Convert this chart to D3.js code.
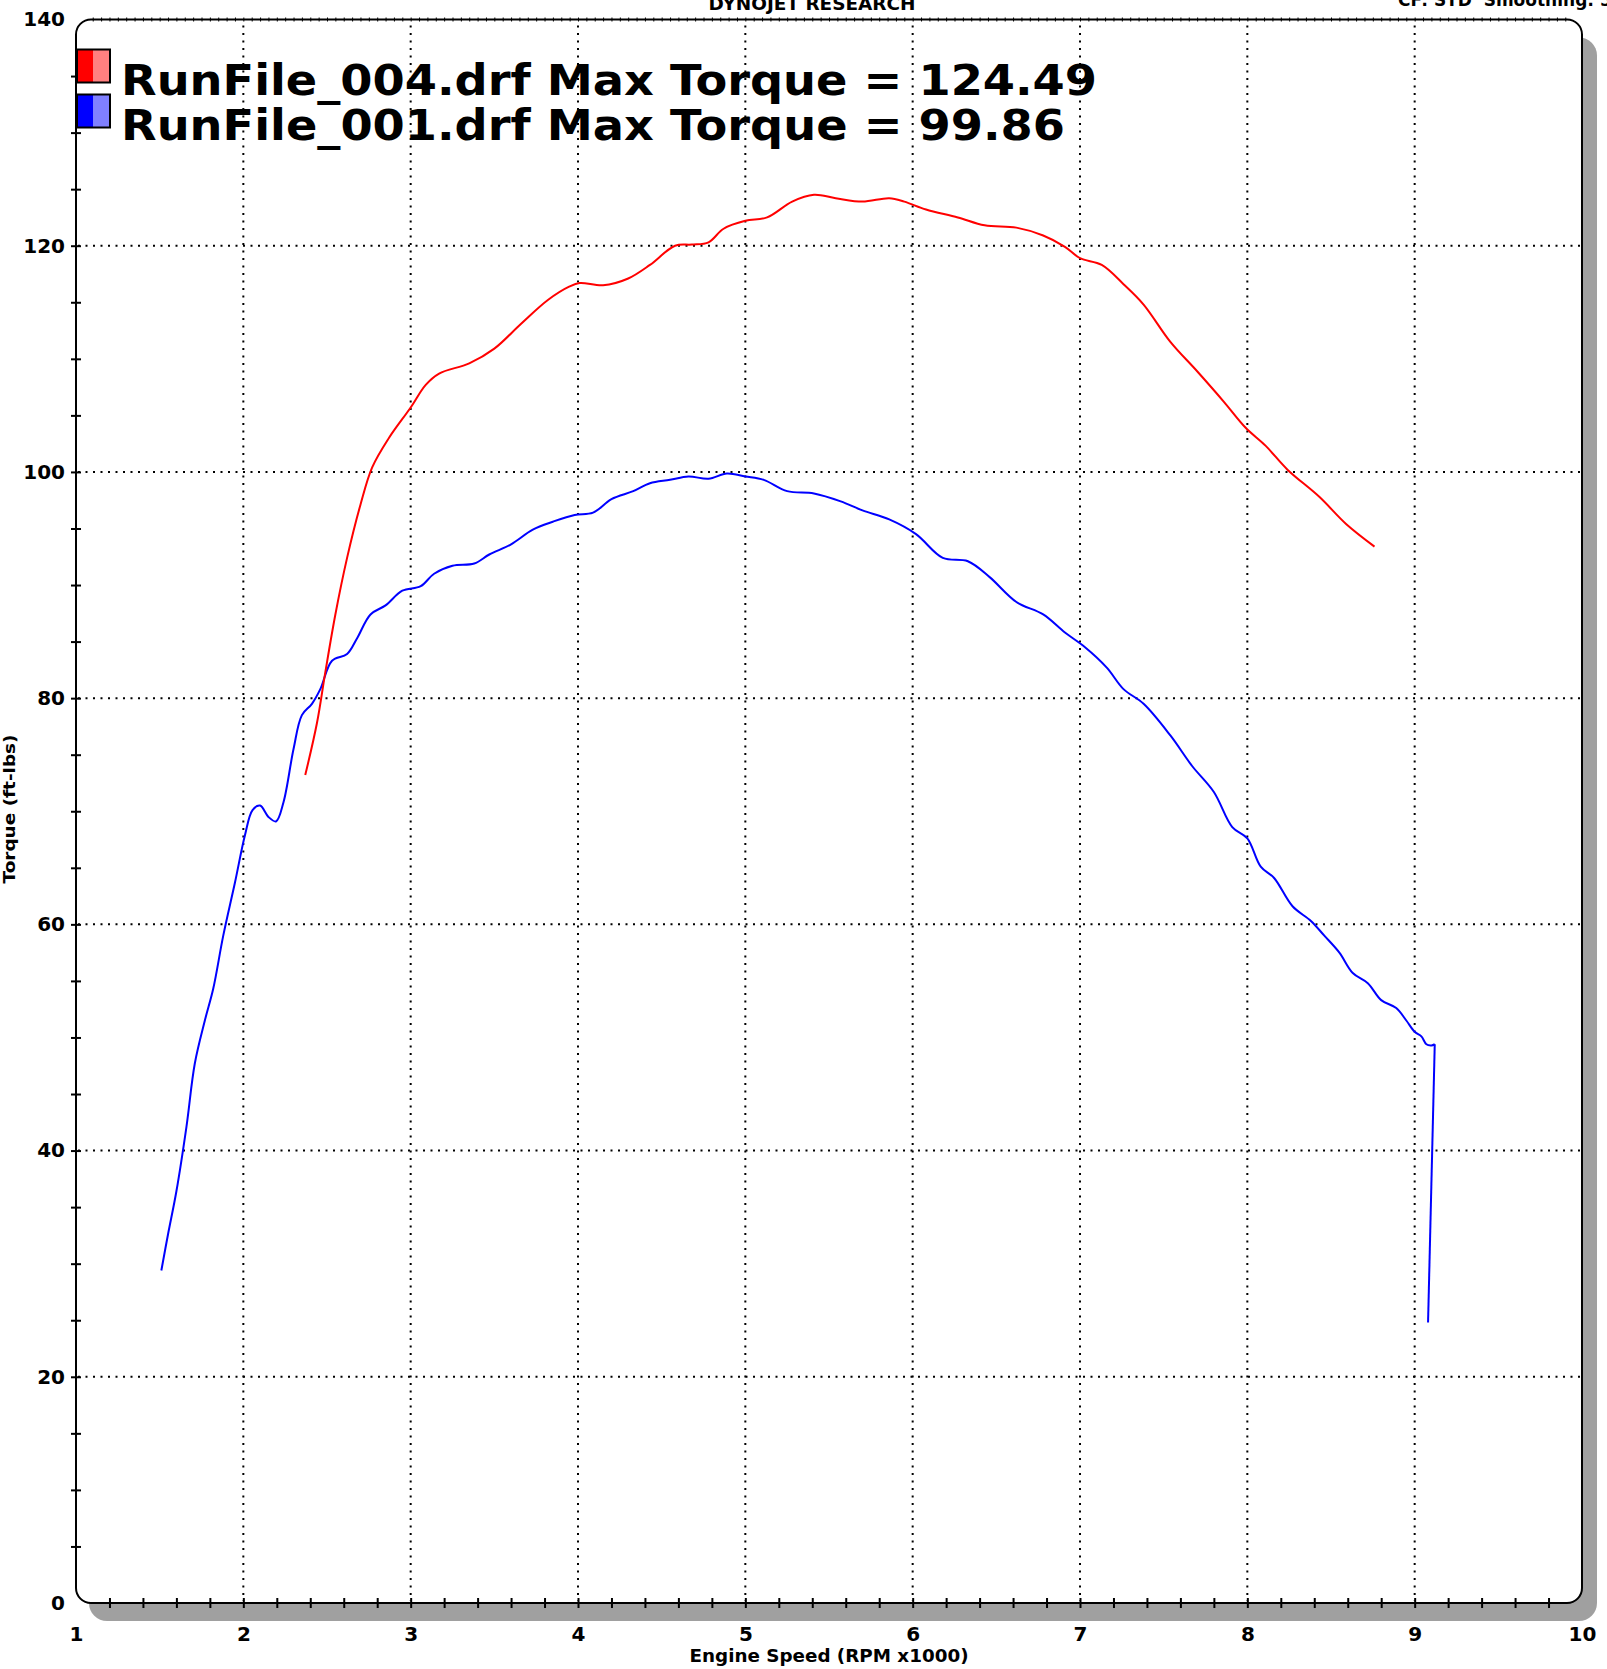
<!DOCTYPE html>
<html>
<head>
<meta charset="utf-8">
<script src="https://cdn.jsdelivr.net/npm/d3@7"></script>
<style>
  body { margin: 0; background: #fff; }
  svg { display: block; font-family: "DejaVu Sans", Verdana, sans-serif; font-weight: bold; }
</style>
</head>
<body>
<div id="chart"></div>
<script>
// run 004 (red) : engine speed (RPM x1000) / torque (ft-lbs)
var run004Rpm = [2.37,2.44,2.49,2.55,2.62,2.70,2.77,2.87,3.00,3.09,3.17,3.35,3.50,3.66,3.82,3.95,4.01,4.15,4.30,4.43,4.58,4.68,4.78,4.87,5.00,5.13,5.28,5.41,5.54,5.70,5.86,5.95,6.08,6.27,6.43,6.62,6.78,6.91,7.00,7.13,7.26,7.38,7.54,7.70,7.86,7.99,8.11,8.24,8.43,8.59,8.76];
var run004Tq  = [73.2,77.8,82.3,87.4,92.4,97.1,100.4,103.0,105.7,107.7,108.7,109.6,110.9,113.1,115.2,116.4,116.7,116.5,117.1,118.3,120.0,120.1,120.3,121.5,122.2,122.5,123.9,124.5,124.2,123.9,124.2,123.9,123.2,122.5,121.8,121.6,120.9,119.9,118.9,118.3,116.6,114.8,111.5,108.9,106.2,103.9,102.3,100.2,97.8,95.4,93.4];

// run 001 (blue)
var run001Rpm = [1.51,1.55,1.60,1.66,1.71,1.77,1.82,1.88,1.95,2.01,2.055,2.10,2.15,2.195,2.24,2.30,2.35,2.41,2.46,2.53,2.62,2.68,2.76,2.85,2.95,3.06,3.14,3.25,3.38,3.47,3.60,3.73,3.85,3.98,4.09,4.20,4.33,4.43,4.55,4.66,4.78,4.89,5.00,5.11,5.25,5.41,5.57,5.70,5.86,6.02,6.18,6.33,6.46,6.62,6.78,6.91,7.03,7.16,7.26,7.38,7.54,7.67,7.80,7.91,8.00,8.08,8.16,8.27,8.38,8.46,8.55,8.63,8.72,8.80,8.89,8.95,9.00,9.04,9.07,9.10,9.12,9.08];
var run001Tq  = [29.4,32.6,36.4,42.1,47.7,51.5,54.3,59.0,63.7,67.9,70.1,70.5,69.5,69.1,70.8,75.5,78.5,79.5,80.8,83.3,83.9,85.3,87.4,88.2,89.5,89.9,91.0,91.7,91.9,92.7,93.6,94.9,95.6,96.2,96.4,97.6,98.3,99.0,99.3,99.6,99.4,99.86,99.6,99.3,98.3,98.1,97.4,96.6,95.8,94.5,92.4,92.1,90.7,88.5,87.4,85.8,84.5,82.7,80.8,79.5,76.7,74.0,71.7,68.6,67.6,65.1,64.1,61.6,60.3,59.0,57.5,55.7,54.8,53.3,52.6,51.5,50.5,50.1,49.4,49.3,49.4,24.8];

var xTicks = [1,2,3,4,5,6,7,8,9,10];
var yTicks = [0,20,40,60,80,100,120,140];
var legendNames = ["RunFile_004.drf Max Torque = 124.49", "RunFile_001.drf Max Torque = 99.86"];
var legendColors = [["#ff0000","#ff8080"],["#0000ff","#8080ff"]];

var W = 1607, H = 1669;
var pLeft = 76, pRight = 1582, pTop = 19.5, pBottom = 1603;

var svg = d3.select("#chart").append("svg")
    .attr("width", W)
    .attr("height", H);

var x = d3.scaleLinear().domain([1,10]).range([pLeft, pRight]);
var y = d3.scaleLinear().domain([0,140]).range([pBottom, pTop]);

// shadow + frame
svg.append("rect")
    .attr("x", pLeft + 13).attr("y", pTop + 18)
    .attr("width", pRight - pLeft + 2).attr("height", pBottom - pTop)
    .attr("rx", 18).attr("ry", 18)
    .attr("fill", "#a0a0a0");
svg.append("rect")
    .attr("x", pLeft).attr("y", pTop)
    .attr("width", pRight - pLeft).attr("height", pBottom - pTop)
    .attr("rx", 15).attr("ry", 15)
    .attr("fill", "#fff");

// grid
var grid = svg.append("g").attr("stroke", "#000").attr("stroke-width", 2).attr("stroke-dasharray", "2,5.5");
grid.selectAll("line.v").data(xTicks.slice(1, -1)).enter().append("line")
    .attr("x1", function (d) { return x(d); }).attr("x2", function (d) { return x(d); })
    .attr("y1", pTop + 6).attr("y2", pBottom - 2);
grid.selectAll("line.h").data(yTicks.slice(1, -1)).enter().append("line")
    .attr("y1", function (d) { return y(d); }).attr("y2", function (d) { return y(d); })
    .attr("x1", pLeft + 2).attr("x2", pRight - 2);

// minor ticks
var xMinor = d3.range(1, 10.001, 0.2);
svg.append("g")
    .attr("transform", "translate(0," + (pBottom - 5) + ")")
    .call(d3.axisBottom(x).tickValues(xMinor.slice(1, -1)).tickSize(10).tickFormat(""))
    .call(function (g) { g.select(".domain").remove(); g.selectAll("line").attr("stroke-width", 2); });

var xFine = d3.range(1.1, 9.95, 0.05);
svg.append("g")
    .attr("transform", "translate(0," + (pTop + 2) + ")")
    .call(d3.axisTop(x).tickValues(xFine).tickSize(4).tickFormat(""))
    .call(function (g) { g.select(".domain").remove(); g.selectAll("line").attr("stroke-width", 1); });

var yMinor = d3.range(5, 140, 5);
svg.append("g")
    .attr("transform", "translate(" + (pLeft + 5) + ",0)")
    .call(d3.axisLeft(y).tickValues(yMinor).tickSize(10).tickFormat(""))
    .call(function (g) { g.select(".domain").remove(); g.selectAll("line").attr("stroke-width", 2); });

// frame border
svg.append("rect")
    .attr("x", pLeft).attr("y", pTop)
    .attr("width", pRight - pLeft).attr("height", pBottom - pTop)
    .attr("rx", 15).attr("ry", 15)
    .attr("fill", "none").attr("stroke", "#000").attr("stroke-width", 2);

// tick labels
svg.append("g")
    .attr("transform", "translate(0," + pBottom + ")")
    .call(d3.axisBottom(x).tickValues(xTicks).tickSize(0).tickPadding(24).tickFormat(d3.format("d")))
    .call(function (g) {
        g.select(".domain").remove();
        g.selectAll("text").attr("font-size", 20).attr("font-family", "DejaVu Sans").attr("font-weight", "bold").attr("fill", "#000");
    });
svg.append("g")
    .attr("transform", "translate(" + pLeft + ",0)")
    .call(d3.axisLeft(y).tickValues(yTicks).tickSize(0).tickPadding(11).tickFormat(d3.format("d")))
    .call(function (g) {
        g.select(".domain").remove();
        g.selectAll("text").attr("font-size", 20).attr("font-family", "DejaVu Sans").attr("font-weight", "bold").attr("fill", "#000");
    });

// axis titles and headers
svg.append("text").attr("x", 829).attr("y", 1662).attr("text-anchor", "middle")
    .attr("font-size", 17).attr("textLength", 279).attr("lengthAdjust", "spacingAndGlyphs")
    .text("Engine Speed (RPM x1000)");
svg.append("text").attr("transform", "translate(15,809) rotate(-90)").attr("text-anchor", "middle")
    .attr("font-size", 16).attr("textLength", 149).attr("lengthAdjust", "spacingAndGlyphs")
    .text("Torque (ft-lbs)");
svg.append("text").attr("x", 812).attr("y", 10).attr("text-anchor", "middle")
    .attr("font-size", 17).attr("textLength", 207).attr("lengthAdjust", "spacingAndGlyphs")
    .text("DYNOJET RESEARCH");
svg.append("text").attr("x", 1398).attr("y", 6)
    .attr("font-size", 17).text("CF: STD\u00a0\u00a0Smoothing: 5");

// curves
var line = d3.line()
    .x(function (d) { return x(d[0]); })
    .y(function (d) { return y(d[1]); })
    .curve(d3.curveCatmullRom.alpha(0.5));
var straight = d3.line()
    .x(function (d) { return x(d[0]); })
    .y(function (d) { return y(d[1]); });

var blue = d3.zip(run001Rpm, run001Tq);
var nb = blue.length;
svg.append("path")
    .attr("d", line(blue.slice(0, nb - 1)))
    .attr("fill", "none").attr("stroke", "#0000ff").attr("stroke-width", 2);
// final drop of the blue run is a straight stroke
svg.append("path")
    .attr("d", straight(blue.slice(nb - 2)))
    .attr("fill", "none").attr("stroke", "#0000ff").attr("stroke-width", 2).attr("stroke-linejoin", "miter");
svg.append("path")
    .attr("d", line(d3.zip(run004Rpm, run004Tq)))
    .attr("fill", "none").attr("stroke", "#ff0000").attr("stroke-width", 2);

// legend
var legendWidths = [976, 944];
var lg = svg.append("g");
legendNames.forEach(function (name, i) {
    var by = 49.5 + i * 45;
    lg.append("rect").attr("x", 77).attr("y", by).attr("width", 16.5).attr("height", 33).attr("fill", legendColors[i][0]);
    lg.append("rect").attr("x", 93.5).attr("y", by).attr("width", 16.5).attr("height", 33).attr("fill", legendColors[i][1]);
    lg.append("rect").attr("x", 77).attr("y", by).attr("width", 33).attr("height", 33)
        .attr("fill", "none").attr("stroke", "#000").attr("stroke-width", 2);
    lg.append("text").attr("x", 121).attr("y", 94.5 + i * 45.5)
        .attr("font-size", 43).attr("textLength", legendWidths[i]).attr("lengthAdjust", "spacingAndGlyphs")
        .text(name);
});
</script>
</body>
</html>
